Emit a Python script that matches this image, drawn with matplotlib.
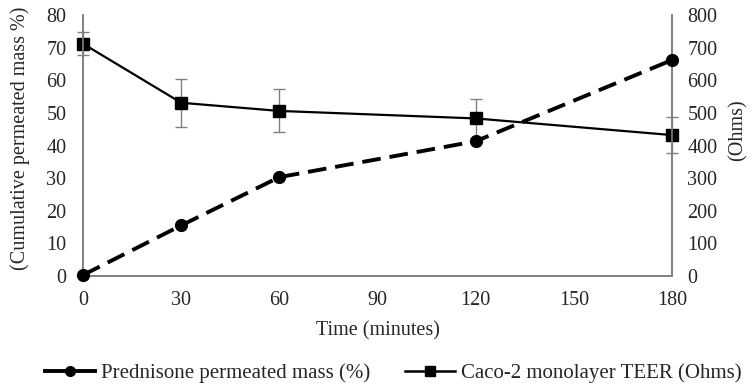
import matplotlib
matplotlib.use('Agg')
import matplotlib.pyplot as plt
from matplotlib.lines import Line2D

# data
time_min = [0, 30, 60, 120, 180]
permeated_pct = [0.3, 15.5, 30.3, 41.3, 66.2]
teer_ohms = [712, 531, 506, 483, 432]
teer_err = [36, 74, 66, 61, 55]

x_ticks = [0, 30, 60, 90, 120, 150, 180]
series_names = ['Prednisone permeated mass (%)', 'Caco-2 monolayer TEER (Ohms)']

plt.rcParams['font.family'] = ['Liberation Serif', 'DejaVu Serif']
fs = 14.5

fig = plt.figure(figsize=(7.52, 3.87), dpi=100)
ax = fig.add_axes([0.1104, 0.2868, 0.7832, 0.6744])
ax2 = ax.twinx()

axis_grey = '#808080'
text_col = '#262626'

# prednisone (left axis), thick dashed
ax.plot(time_min, permeated_pct, color='black', lw=2.8,
        dashes=(4.8, 2.3), marker='o', markersize=8.5, zorder=3, clip_on=False)

# TEER (right axis) with error bars
ax2.errorbar(time_min, teer_ohms, yerr=teer_err, fmt='none',
             ecolor=axis_grey, elinewidth=1, capsize=4, capthick=1,
             zorder=2, clip_on=False)
ax2.plot(time_min, teer_ohms, color='black', lw=1.6,
         marker='s', markersize=8.5, zorder=3, clip_on=False)

ax.set_xlim(0, 180)
ax.set_ylim(0, 80)
ax2.set_ylim(0, 800)
ax.set_xticks(x_ticks)
ax.set_yticks(range(0, 81, 10))
ax2.set_yticks(range(0, 801, 100))

for a in (ax, ax2):
    a.spines['top'].set_visible(False)
    for s in ('left', 'right', 'bottom'):
        a.spines[s].set_color(axis_grey)
        a.spines[s].set_linewidth(1.2)
    a.tick_params(length=0, colors=text_col, labelsize=fs)
ax.tick_params(axis='x', pad=11)
ax.tick_params(axis='y', pad=12)
ax2.tick_params(axis='y', pad=11)
ax.patch.set_visible(False)
ax.set_zorder(ax2.get_zorder() + 1)

ax.set_xlabel('Time (minutes)', fontsize=fs, color=text_col, labelpad=8)
ax.set_ylabel('(Cumulative permeated mass %)', fontsize=fs, color=text_col,
              labelpad=12)
ax2.set_ylabel('(Ohms)', fontsize=fs, color=text_col, labelpad=8)
ax.yaxis.label.set_y(0.527)
ax2.yaxis.label.set_y(0.56)

# legend handles as drawn in the reference (solid lines, smaller markers)
handles = [Line2D([], [], color='black', lw=2.8, marker='o', markersize=7),
           Line2D([], [], color='black', lw=1.8, marker='s', markersize=7)]
fig.legend(handles=handles, labels=series_names, loc='center', ncol=2,
           frameon=False, bbox_to_anchor=(0.523, 0.036), fontsize=15,
           handlelength=2.4, columnspacing=1.7, handletextpad=0.25,
           labelcolor=text_col, borderaxespad=0, borderpad=0)

fig.savefig('out.png', dpi=100)
